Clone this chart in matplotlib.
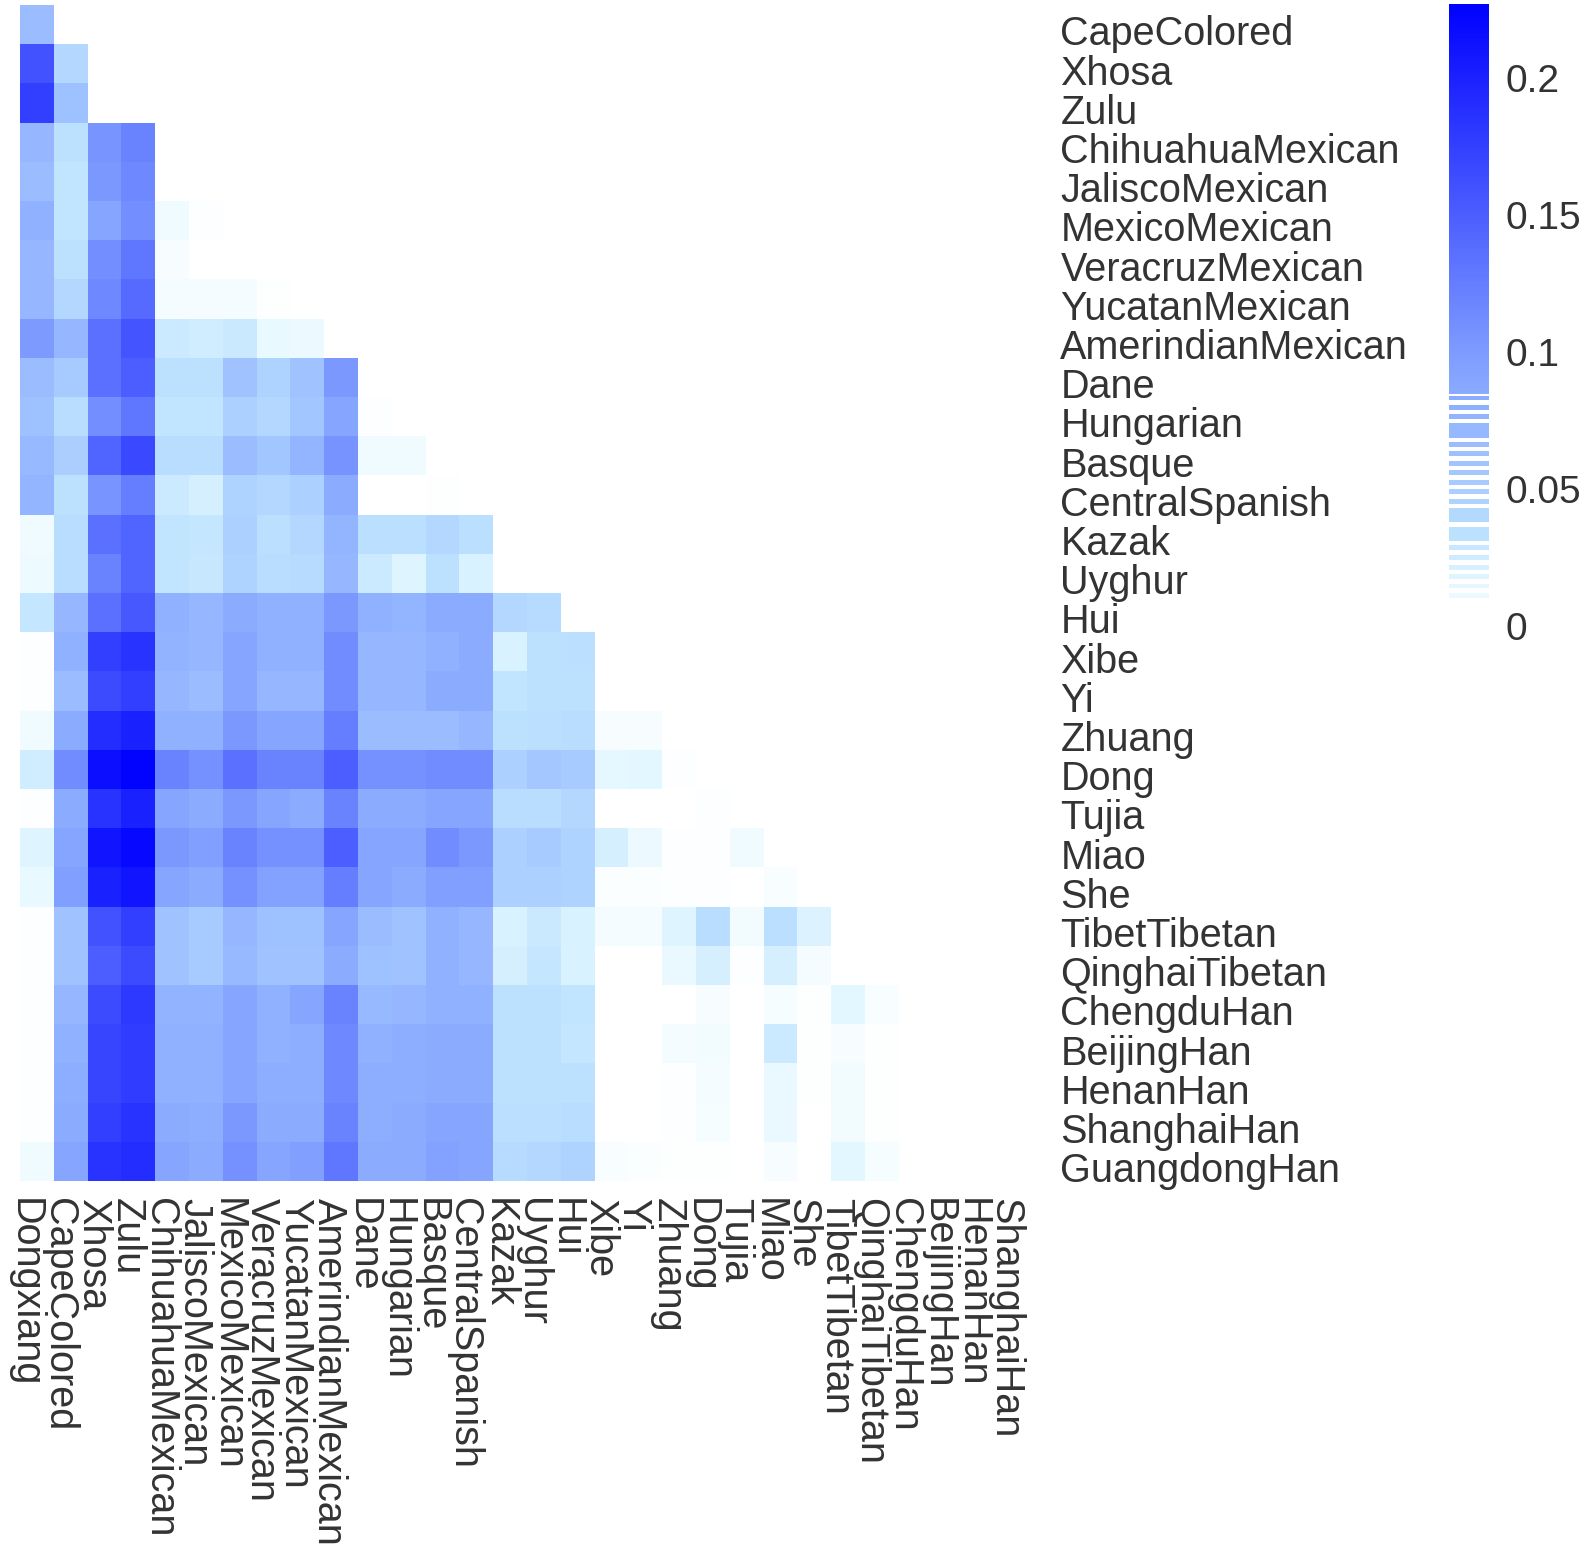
import numpy as np
import matplotlib
matplotlib.use('Agg')
import matplotlib.pyplot as plt
from matplotlib.colors import LinearSegmentedColormap, Normalize

plt.rcParams['font.family'] = ['Liberation Sans', 'DejaVu Sans']

# Population labels
col_labels = ['Dongxiang', 'CapeColored', 'Xhosa', 'Zulu', 'ChihuahuaMexican', 'JaliscoMexican',
              'MexicoMexican', 'VeracruzMexican', 'YucatanMexican', 'AmerindianMexican', 'Dane',
              'Hungarian', 'Basque', 'CentralSpanish', 'Kazak', 'Uyghur', 'Hui', 'Xibe', 'Yi',
              'Zhuang', 'Dong', 'Tujia', 'Miao', 'She', 'TibetTibetan', 'QinghaiTibetan',
              'ChengduHan', 'BeijingHan', 'HenanHan', 'ShanghaiHan']
row_labels = col_labels[1:] + ['GuangdongHan']

# Lower triangle values
dist_rows = [
    [.066],
    [.16, .042],
    [.175, .062, 0],
    [.072, .033, .105, .12],
    [.066, .031, .102, .115, 0],
    [.078, .031, .09, .11, .009, .002],
    [.072, .033, .11, .13, .0045, 0, 0],
    [.072, .042, .115, .14, .006, .006, .006, .001],
    [.1, .072, .135, .158, .026, .024, .027, .013, .011],
    [.066, .053, .135, .15, .033, .033, .06, .046, .06, .102],
    [.062, .037, .11, .13, .031, .031, .048, .042, .058, .09, .0015],
    [.07, .05, .145, .168, .037, .037, .066, .058, .075, .106, .009, .009],
    [.075, .033, .105, .125, .026, .022, .046, .042, .048, .084, 0, 0, .001],
    [.009, .037, .135, .145, .031, .029, .048, .035, .042, .075, .035, .035, .042, .035],
    [.01, .037, .12, .145, .031, .028, .046, .037, .039, .072, .026, .018, .033, .02, 0],
    [.029, .072, .135, .155, .078, .072, .084, .078, .078, .102, .078, .075, .084, .084, .042, .039],
    [.0015, .078, .175, .185, .076, .072, .09, .078, .078, .112, .072, .072, .078, .084, .02, .033, .035],
    [.002, .066, .165, .175, .072, .066, .09, .072, .072, .112, .072, .072, .084, .084, .031, .033, .033, 0],
    [.009, .084, .19, .2, .078, .078, .102, .09, .09, .125, .066, .066, .066, .072, .033, .035, .037, .0045, .0045],
    [.024, .112, .215, .225, .12, .108, .135, .12, .12, .15, .108, .108, .112, .112, .048, .056, .053, .015, .016, .0015],
    [.0015, .084, .185, .2, .09, .084, .102, .09, .084, .12, .084, .084, .09, .09, .037, .037, .042, 0, 0, 0, .0015],
    [.018, .09, .21, .22, .102, .096, .12, .108, .108, .15, .09, .09, .112, .102, .048, .053, .046, .022, .011, .002, .0015, .009],
    [.013, .096, .2, .21, .09, .084, .108, .093, .093, .125, .09, .084, .096, .096, .048, .048, .046, .003, .003, .002, .0015, 0, .004],
    [.0015, .06, .16, .175, .06, .053, .072, .062, .062, .09, .066, .06, .078, .072, .02, .027, .02, .006, .006, .018, .037, .0075, .035, .019],
    [.0015, .06, .15, .165, .06, .053, .07, .06, .06, .084, .062, .06, .078, .072, .022, .029, .02, 0, 0, .012, .022, .0015, .022, .006, 0],
    [.002, .072, .165, .18, .076, .076, .09, .078, .09, .12, .07, .072, .078, .078, .033, .033, .031, 0, 0, 0, .0045, 0, .005, .001, .016, .004],
    [.0015, .078, .17, .178, .078, .078, .09, .078, .082, .115, .078, .082, .084, .084, .033, .033, .029, 0, 0, .006, .0075, 0, .026, .001, .0045, .001, 0],
    [.0015, .082, .17, .178, .078, .078, .09, .082, .082, .115, .082, .082, .084, .084, .033, .033, .033, 0, 0, .002, .006, 0, .012, .001, .0075, .001, 0, 0],
    [.0015, .084, .175, .185, .084, .082, .102, .084, .084, .12, .082, .084, .09, .09, .035, .035, .037, 0, 0, .0015, .005, 0, .012, 0, .0075, .001, 0, 0, 0],
    [.009, .09, .185, .19, .09, .084, .108, .09, .096, .13, .084, .084, .093, .09, .039, .042, .046, .004, .003, .001, .001, 0, .0045, 0, .016, .005, 0, 0, 0, 0],
]

# Colour bar: only values that occur are painted below the solid part
bar_ticks = [0, 0.05, 0.1, 0.15, 0.2]
bar_tick_labels = ['0', '0.05', '0.1', '0.15', '0.2']
stripe_low = [.0823, .0789, .0755, .0686, .0654, .0619, .0584, .0550, .0515, .0482, .0447, .0380, .0310,
              .0276, .0242, .0206, .0172, .0137, .0102]
stripe_high = [.0841, .0807, .0773, .0741, .0672, .0637, .0602, .0568, .0533, .0500, .0465, .0431, .0361,
               .0294, .0260, .0224, .0190, .0155, .0120]

W, H = 1586, 1552
fig = plt.figure(figsize=(W / 100, H / 100), dpi=100)


def px_axes(left, top, right, bottom):
    return fig.add_axes([left / W, 1 - bottom / H, (right - left) / W, (bottom - top) / H])


cmap = LinearSegmentedColormap.from_list('wb', [
    (0, (1, 1, 1)),
    (.015 / .227, (228 / 255, 248 / 255, 1)),
    (.033 / .227, (188 / 255, 225 / 255, 1)),
    (.06 / .227, (160 / 255, 195 / 255, 1)),
    (.1 / .227, (125 / 255, 155 / 255, 1)),
    (1, (0, 0, 1)),
], N=512)
norm = Normalize(0, 0.227)

# Heatmap
n = len(col_labels)
grid = np.full((len(row_labels), n), np.nan)
for i, row in enumerate(dist_rows):
    grid[i, :len(row)] = row

ax = px_axes(20, 5, 1034, 1181)
ax.pcolormesh(np.arange(n + 1), np.arange(len(row_labels) + 1), np.ma.masked_invalid(grid),
              cmap=cmap, norm=norm, linewidth=0)
ax.invert_yaxis()
for s in ax.spines.values():
    s.set_visible(False)

text_color = '#333333'
ax.set_xticks(np.arange(n) + 0.15)
ax.set_xticklabels(col_labels, rotation=-90, fontsize=28.5, color=text_color)
ax.yaxis.tick_right()
ax.set_yticks(np.arange(len(row_labels)) + 0.65)
ax.set_yticklabels(row_labels, fontsize=28.5, color=text_color)
ax.tick_params(axis='x', length=0, pad=12)
ax.tick_params(axis='y', length=0, pad=19)

# Colour bar
cax = px_axes(1449, 4, 1489, 626)
ramp = np.linspace(0.0845, 0.227, 300)
cax.pcolormesh([0, 1], ramp, ramp[:-1].reshape(-1, 1), cmap=cmap, norm=norm, linewidth=0)
for lo, hi in zip(stripe_low, stripe_high):
    cax.barh((lo + hi) / 2, 1, height=hi - lo, left=0, color=cmap(norm((lo + hi) / 2)), linewidth=0)
cax.set_xlim(0, 1)
cax.set_ylim(0, 0.227)
cax.set_xticks([])
cax.yaxis.tick_right()
cax.set_yticks(bar_ticks)
cax.set_yticklabels(bar_tick_labels, fontsize=28, color=text_color)
cax.tick_params(axis='y', length=0, pad=12)
for s in cax.spines.values():
    s.set_visible(False)

plt.savefig('out.png', dpi=100)
